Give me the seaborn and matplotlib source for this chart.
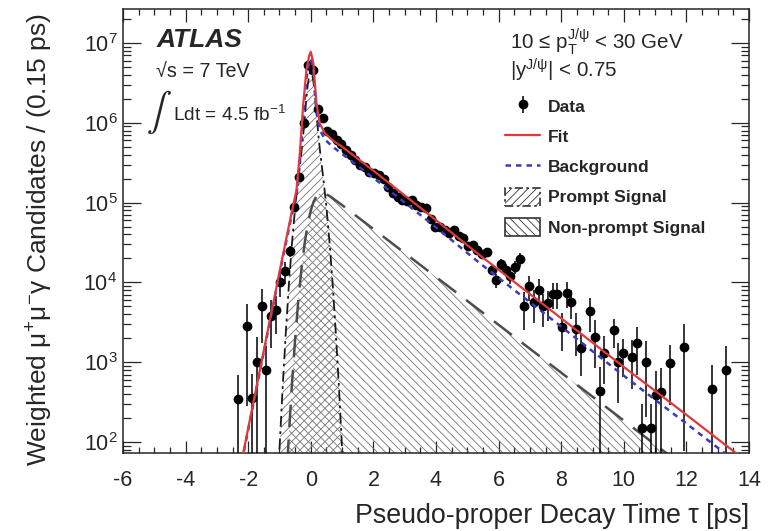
import numpy as np
import pandas as pd
import matplotlib
matplotlib.use("Agg")
import matplotlib.pyplot as plt
import seaborn as sns
from matplotlib.patches import Patch
from matplotlib.lines import Line2D
from matplotlib.ticker import LogLocator, NullFormatter, MultipleLocator

# ---- binned data: bin centres (0.15 ps bins), weighted counts, relative errors ----
tau = [-2.325, -2.025, -1.875, -1.725, -1.575, -1.425, -1.275, -1.125, -0.975, -0.825,
       -0.675, -0.525, -0.375, -0.225, -0.075, 0.075, 0.225, 0.375, 0.525, 0.675,
       0.825, 0.975, 1.125, 1.275, 1.425, 1.575, 1.725, 1.875, 2.025, 2.175,
       2.325, 2.475, 2.625, 2.775, 2.925, 3.075, 3.225, 3.375, 3.525, 3.675,
       3.825, 3.975, 4.125, 4.275, 4.425, 4.575, 4.725, 4.875, 5.025, 5.175,
       5.325, 5.475, 5.625, 5.775, 5.925, 6.075, 6.225, 6.375, 6.525, 6.675,
       6.825, 6.975, 7.125, 7.275, 7.425, 7.575, 7.725, 7.875, 8.025, 8.175,
       8.325, 8.475, 8.625, 8.925, 9.075, 9.225, 9.375, 9.675, 9.825, 9.975,
       10.275, 10.425, 10.575, 10.725, 10.875, 11.025, 11.175, 11.475, 11.925, 12.825,
       13.275]
counts = [347, 2820, 355, 1020, 5010, 794, 3800, 4470, 1.0e4, 1.38e4,
          2.45e4, 8.7e4, 2.09e5, 9.8e5, 5.25e6, 4.57e6, 1.48e6, 1.15e6, 7.9e5, 7.2e5,
          6.0e5, 5.5e5, 4.57e5, 3.98e5, 3.39e5, 2.95e5, 2.82e5, 2.45e5, 2.34e5, 2.24e5,
          2.0e5, 1.58e5, 1.32e5, 1.17e5, 1.07e5, 1.05e5, 1.07e5, 9.3e4, 8.7e4, 8.5e4,
          6.3e4, 5.0e4, 5.0e4, 4.57e4, 4.17e4, 4.57e4, 3.8e4, 3.55e4, 2.82e4, 2.95e4,
          2.51e4, 2.29e4, 2.43e4, 1.45e4, 1.07e4, 1.7e4, 1.45e4, 1.2e4, 1.55e4, 1.95e4,
          5.1e3, 8.9e3, 5.6e3, 8.1e3, 5.0e3, 5.5e3, 7.2e3, 7.2e3, 2.75e3, 7.4e3,
          5.75e3, 2.63e3, 1.51e3, 4.37e3, 2.09e3, 437, 1.32e3, 2.51e3, 1.02e3, 1.29e3,
          1.17e3, 1.74e3, 151, 1.02e3, 148, 389, 427, 977, 1.55e3, 457,
          794]
rel_err = [1.0, 0.9, 1.0, 1.0, 0.65, 1.0, 0.6, 0.5, 0.35, 0.3,
           0.15, 0.08, 0.04, 0.02, 0.01, 0.01, 0.01, 0.01, 0.01, 0.01,
           0.01, 0.01, 0.01, 0.01, 0.01, 0.02, 0.02, 0.02, 0.02, 0.02,
           0.02, 0.02, 0.02, 0.02, 0.02, 0.03, 0.03, 0.03, 0.03, 0.03,
           0.03, 0.03, 0.03, 0.03, 0.03, 0.05, 0.05, 0.05, 0.05, 0.05,
           0.05, 0.05, 0.05, 0.15, 0.2, 0.15, 0.18, 0.2, 0.18, 0.2,
           0.5, 0.35, 0.45, 0.35, 0.45, 0.4, 0.35, 0.35, 0.5, 0.35,
           0.4, 0.55, 0.55, 0.45, 0.6, 1.0, 0.6, 0.4, 0.7, 0.5,
           0.6, 0.6, 1.0, 0.8, 1.0, 1.0, 1.0, 0.7, 0.95, 1.0,
           1.0]

# ---- fit model and its components, sampled along tau ----
fit_tau = [-2.4, -2.16, -1.5, -1.0, -0.6, -0.46, -0.35, -0.24, -0.14, -0.06, 0.0, 0.08,
           0.18, 0.29, 0.45, 0.7, 1.0, 2.0, 3.0, 4.0, 5.4, 8.0, 10.0, 12.0, 14.0]
fit_val = [24.5, 72.4, 1.41e3, 1.35e4, 7.94e4, 1.41e5, 4.17e5, 1.74e6, 4.57e6, 6.76e6, 7.76e6,
           5.62e6, 1.74e6, 9.77e5, 7.41e5, 6.03e5, 5.01e5, 2.51e5, 1.23e5, 6.03e4, 2.19e4,
           3.55e3, 871, 219, 54.3]

bkg_tau = [-2.4, -2.16, -1.5, -1.0, -0.6, -0.46, -0.35, -0.24, -0.14, -0.06, 0.0, 0.08,
           0.18, 0.29, 0.45, 0.7, 1.0, 2.0, 3.0, 4.0, 5.4, 8.0, 10.0, 12.0, 14.0]
bkg_val = [23.4, 69.2, 1.35e3, 1.29e4, 7.24e4, 1.2e5, 3.16e5, 1.26e6, 3.55e6, 5.5e6, 6.31e6,
           4.57e6, 1.41e6, 8.13e5, 6.17e5, 5.01e5, 4.07e5, 2.04e5, 1.0e5, 4.9e4, 1.74e4,
           2.79e3, 676, 170, 42.3]

prompt_tau = [-1.1, -1.0, -0.9, -0.8, -0.7, -0.6, -0.5, -0.4, -0.3, -0.25, -0.2, -0.15,
              -0.1, -0.05, 0.0, 0.05, 0.1, 0.15, 0.2, 0.25, 0.3, 0.4, 0.5, 0.6, 0.7, 0.8,
              0.9, 1.0, 1.1]
prompt_val = [11.5, 81, 476, 2.31e3, 9.33e3, 3.13e4, 8.71e4, 2.01e5, 4.24e5, 6.52e5, 1.09e6, 1.86e6,
              2.93e6, 3.96e6, 4.39e6, 3.96e6, 2.93e6, 1.86e6, 1.09e6, 6.52e5, 4.24e5, 2.01e5, 8.71e4,
              3.13e4, 9.33e3, 2.31e3, 476, 81, 11.5]

nonprompt_tau = [-0.9, -0.8, -0.7, -0.6, -0.5, -0.4, -0.3, -0.2, -0.1, 0.0, 0.1, 0.2,
                 0.3, 0.4, 0.6, 1.0, 14.0]
nonprompt_val = [3.2, 24, 124, 551, 1950, 5860, 1.45e4, 3.03e4, 5.32e4, 8.0e4, 1.05e5, 1.23e5,
                 1.32e5, 1.32e5, 1.21e5, 9.3e4, 11.7]

# ---- style ----
sns.set_style("ticks")
plt.rcParams["font.family"] = ["Liberation Sans", "DejaVu Sans"]
plt.rcParams["mathtext.fontset"] = "custom"
plt.rcParams["mathtext.rm"] = "Liberation Sans"
plt.rcParams["mathtext.it"] = "Liberation Sans:italic"
plt.rcParams["mathtext.bf"] = "Liberation Sans:bold"
plt.rcParams["axes.unicode_minus"] = False
plt.rcParams["hatch.linewidth"] = 0.6

W, H = 779, 531
fig = plt.figure(figsize=(W / 100, H / 100), dpi=100)
ax_l, ax_r, ax_t, ax_b = 123, 749, 9, 453
ax = fig.add_axes([ax_l / W, 1 - ax_b / H, (ax_r - ax_l) / W, (ax_b - ax_t) / H])

ymin, ymax = 10 ** 1.862, 10 ** 7.426
ax.set_yscale("log")
ax.set_xlim(-6, 14)
ax.set_ylim(ymin, ymax)

hatch_col = "0.45"
# non-prompt signal (hatched area + long-dash outline)
ax.fill_between(nonprompt_tau, 1.0, nonprompt_val, facecolor="none", edgecolor=hatch_col,
                hatch="\\\\\\\\", linewidth=0, zorder=1)
# prompt signal (hatched area + dash-dot outline)
ax.fill_between(prompt_tau, 1.0, prompt_val, facecolor="none", edgecolor=hatch_col,
                hatch="////", linewidth=0, zorder=1)

df_np = pd.DataFrame({"tau": nonprompt_tau, "val": nonprompt_val})
df_pr = pd.DataFrame({"tau": prompt_tau, "val": prompt_val})
df_bkg = pd.DataFrame({"tau": bkg_tau, "val": bkg_val})
df_fit = pd.DataFrame({"tau": fit_tau, "val": fit_val})

sns.lineplot(data=df_np, x="tau", y="val", ax=ax, color="0.3", lw=1.8,
             linestyle=(0, (9, 5)), estimator=None, sort=False, zorder=2)
sns.lineplot(data=df_pr, x="tau", y="val", ax=ax, color="0.1", lw=1.3,
             linestyle=(0, (6, 2.5, 1.5, 2.5)), estimator=None, sort=False, zorder=2)

# data points with error bars
cnt = np.array(counts, dtype=float)
rel = np.array(rel_err, dtype=float)
err_up = cnt * rel
err_lo = cnt * np.minimum(rel, 0.999)
eb = ax.errorbar(tau, cnt, yerr=[err_lo, err_up], fmt="o", color="black", ms=6,
                 elinewidth=1.1, capsize=0, zorder=3)

sns.lineplot(data=df_bkg, x="tau", y="val", ax=ax, color="#3a3ac0", lw=1.8,
             linestyle=(0, (2.2, 2.0)), estimator=None, sort=False, zorder=4)
sns.lineplot(data=df_fit, x="tau", y="val", ax=ax, color="#e0383c", lw=1.6,
             estimator=None, sort=False, zorder=5)

# ---- axes, ticks ----
ax.set_xlabel("")
ax.set_ylabel("")
ax.xaxis.set_major_locator(MultipleLocator(2))
ax.xaxis.set_minor_locator(MultipleLocator(0.5))
ax.yaxis.set_major_locator(LogLocator(base=10))
ax.yaxis.set_minor_locator(LogLocator(base=10, subs=np.arange(2, 10)))
ax.yaxis.set_minor_formatter(NullFormatter())
ax.tick_params(axis="both", which="both", direction="in", top=True, right=True,
               color="0.15", width=0.9, labelsize=15.5)
ax.tick_params(axis="x", which="major", length=9, pad=12)
ax.tick_params(axis="x", which="minor", length=4.3)
ax.tick_params(axis="y", which="major", length=13, pad=4)
ax.tick_params(axis="y", which="minor", length=6)
for s in ax.spines.values():
    s.set_linewidth(1.1)
    s.set_color("0.15")
    s.set_visible(True)

fig.text(749 / W, 1 - 516 / H, "Pseudo-proper Decay Time τ [ps]", ha="right", va="center",
         fontsize=19.3)
fig.text(40 / W, 1 - 13 / H, r"Weighted $\mathrm{\mu^{+}\mu^{-}\gamma}$ Candidates / (0.15 ps)",
         rotation=90, ha="center", va="top", fontsize=19)

# ---- annotations ----
fig.text(157 / W, 1 - 40 / H, "ATLAS", fontsize=19, fontweight="bold", fontstyle="italic",
         va="center", ha="left")
fig.text(156 / W, 1 - 71 / H, "√s = 7 TeV", fontsize=14.2, va="center", ha="left")
fig.text(146 / W, 1 - 112 / H, r"$\int$", fontsize=27, va="center", ha="left",
         math_fontfamily="stix")
fig.text(173 / W, 1 - 115 / H, r"Ldt = 4.5 fb$^{-1}$", fontsize=13.8, va="center", ha="left")

fig.text(510 / W, 1 - 42 / H, r"10 ≤ p$_{\mathrm{T}}^{\mathrm{J/\psi}}$ < 30 GeV", fontsize=14.8,
         va="center", ha="left")
fig.text(510 / W, 1 - 70 / H, r"|y$^{\mathrm{J/\psi}}$| < 0.75", fontsize=14.8,
         va="center", ha="left")

handles = [
    eb,
    Line2D([], [], color="#e0383c", lw=1.6),
    Line2D([], [], color="#3a3ac0", lw=1.8, linestyle=(0, (2.2, 2.0))),
    Patch(facecolor="white", edgecolor="0.2", hatch="////", linestyle=(0, (5, 2, 1.5, 2)), lw=1.2),
    Patch(facecolor="white", edgecolor="0.2", hatch="\\\\\\\\", lw=1.2),
]
labels = ["Data", "Fit", "Background", "Prompt Signal", "Non-prompt Signal"]
leg = fig.legend(handles, labels, loc="upper left", bbox_to_anchor=(505 / W, 1 - 97 / H),
                 frameon=False, prop={"weight": "bold", "size": 12.6}, handlelength=2.0,
                 handleheight=1.2, handletextpad=0.45, labelspacing=0.7, borderpad=0,
                 borderaxespad=0)

fig.savefig("out.png", dpi=100)
